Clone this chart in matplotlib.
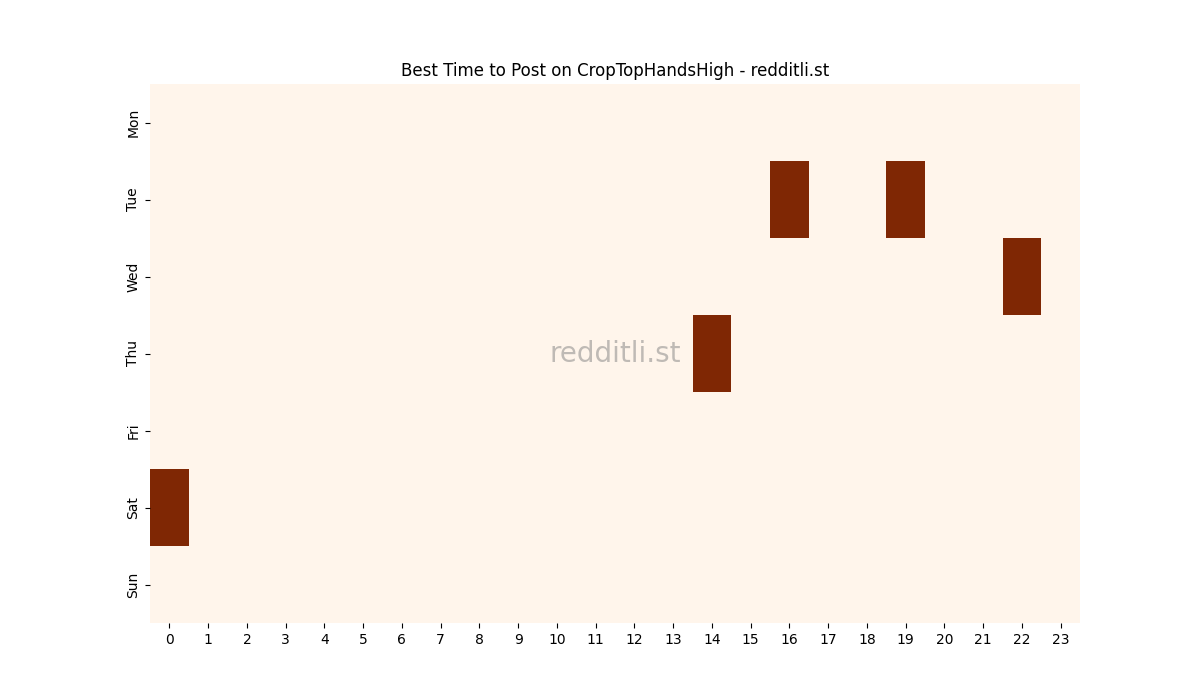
import numpy as np
import matplotlib
matplotlib.use('Agg')
import matplotlib.pyplot as plt

# Days and hours
days = ['Mon', 'Tue', 'Wed', 'Thu', 'Fri', 'Sat', 'Sun']
hours = list(range(24))

# Best slots (day, hour) - each one gets the max score
best_slots = [('Tue', 16), ('Tue', 19), ('Wed', 22), ('Thu', 14), ('Sat', 0)]

scores = np.zeros((len(days), len(hours)))
for day, hour in best_slots:
    scores[days.index(day), hour] = 1

fig, ax = plt.subplots(figsize=(12, 7), dpi=100)
ax.pcolormesh(scores, cmap='Oranges', vmin=0, vmax=1)
ax.set_xlim(0, len(hours))
ax.set_ylim(len(days), 0)

ax.set_xticks(np.arange(len(hours)) + 0.5)
ax.set_xticklabels([str(h) for h in hours])
ax.set_yticks(np.arange(len(days)) + 0.5)
ax.set_yticklabels(days, rotation=90, va='center')

for spine in ax.spines.values():
    spine.set_visible(False)

ax.set_title('Best Time to Post on CropTopHandsHigh - redditli.st')

# watermark
ax.text(0.5, 0.5, 'redditli.st', transform=ax.transAxes, fontsize=20,
        color='grey', alpha=0.5, ha='center', va='center')

plt.savefig('out.png')
